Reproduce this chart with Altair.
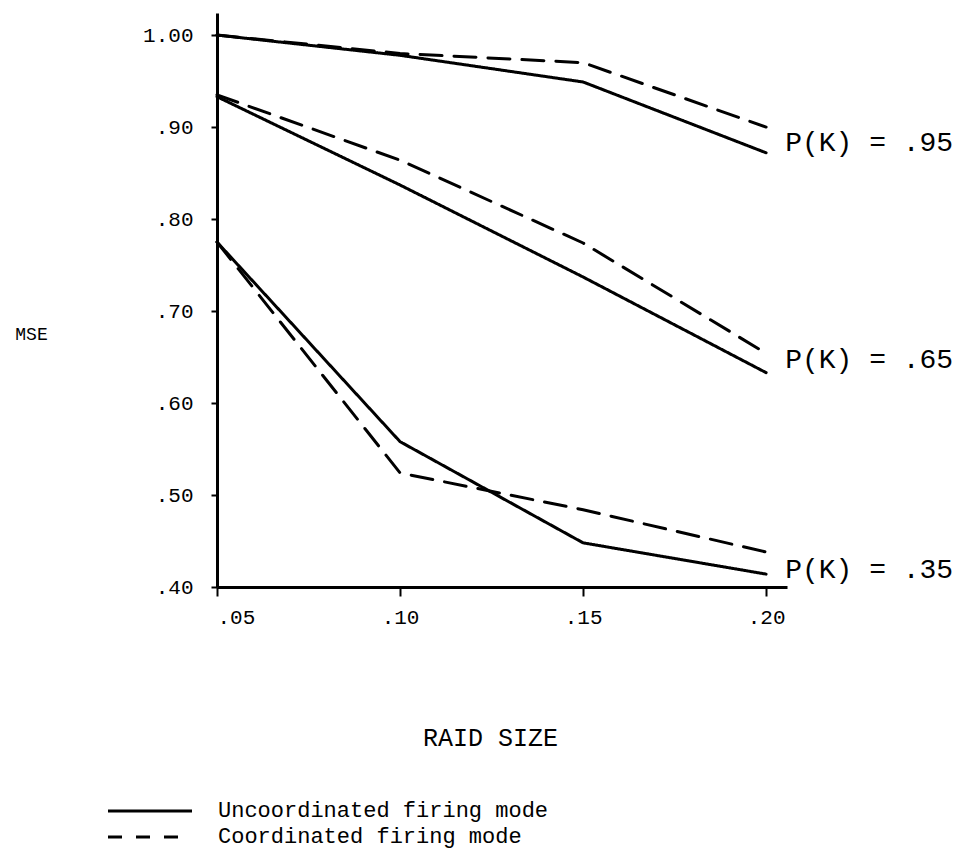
import altair as alt
import pandas as pd

# ---- data ----
raid_size = [0.05, 0.10, 0.15, 0.20]
pk_levels = [".95", ".65", ".35"]
modes = ["Uncoordinated firing mode", "Coordinated firing mode"]

unc_95 = [1.000, 0.978, 0.949, 0.872]
coo_95 = [1.000, 0.980, 0.970, 0.900]
unc_65 = [0.933, 0.837, 0.737, 0.633]
coo_65 = [0.935, 0.864, 0.774, 0.654]
unc_35 = [0.775, 0.558, 0.448, 0.414]
coo_35 = [0.775, 0.524, 0.484, 0.438]

y_ticks = [0.40, 0.50, 0.60, 0.70, 0.80, 0.90, 1.00]
x_ticks = [0.05, 0.10, 0.15, 0.20]

label_texts = ["P(K) = .95", "P(K) = .65", "P(K) = .35"]
label_y = [0.883, 0.647, 0.418]

FONT = "Liberation Mono"

series = {
    (".95", modes[0]): unc_95, (".95", modes[1]): coo_95,
    (".65", modes[0]): unc_65, (".65", modes[1]): coo_65,
    (".35", modes[0]): unc_35, (".35", modes[1]): coo_35,
}
rows = []
for (pk, mode), vals in series.items():
    for x, v in zip(raid_size, vals):
        rows.append({"raid": x, "mse": v, "pk": pk, "mode": mode})
df = pd.DataFrame(rows)

lab_df = pd.DataFrame({"raid": [raid_size[-1]] * 3, "mse": label_y, "text": label_texts})

xscale = alt.Scale(domain=[0.05, 0.2057], nice=False, zero=False)
yscale = alt.Scale(domain=[0.40, 1.024], nice=False, zero=False)

lines = alt.Chart(df).mark_line(color="black", strokeWidth=3, strokeCap="round").encode(
    x=alt.X("raid:Q", scale=xscale,
            axis=alt.Axis(values=x_ticks, title="RAID SIZE", grid=False,
                          labelExpr="substring(format(datum.value, '.2f'), 1)",
                          tickSize=9, labelPadding=10,
                          titleX=273, titleY=150, titleBaseline="middle",
                          titleAlign="center", titleFontSize=25)),
    y=alt.Y("mse:Q", scale=yscale,
            axis=alt.Axis(values=y_ticks, title="MSE", grid=False,
                          labelExpr="datum.value >= 1 ? '1.00' : substring(format(datum.value, '.2f'), 1)",
                          tickSize=6, labelPadding=18,
                          titleAngle=0, titleX=-186, titleY=321,
                          titleAlign="center", titleBaseline="middle",
                          titleFontSize=18)),
    detail="pk:N",
    strokeDash=alt.StrokeDash("mode:N", scale=alt.Scale(domain=modes, range=[[1, 0], [22, 12]]),
                              legend=None),
)

labels = alt.Chart(lab_df).mark_text(align="left", baseline="middle", dx=19,
                                     font=FONT, fontSize=28, color="black").encode(
    x=alt.X("raid:Q", scale=xscale),
    y=alt.Y("mse:Q", scale=yscale),
    text="text:N",
)

leg_df = pd.DataFrame({"mode": modes})
leg_solid = alt.Chart(leg_df).transform_filter(alt.datum.mode == modes[0]).mark_rule(
    color="black", strokeWidth=3).encode(
    x=alt.value(-109), x2=alt.value(-25), y=alt.value(798))
leg_dash = alt.Chart(leg_df).transform_filter(alt.datum.mode == modes[1]).mark_rule(
    color="black", strokeWidth=3, strokeDash=[14, 14]).encode(
    x=alt.value(-109), x2=alt.value(-25), y=alt.value(824))
leg_txt1 = alt.Chart(leg_df).transform_filter(alt.datum.mode == modes[0]).mark_text(
    align="left", baseline="middle", font=FONT, fontSize=22, color="black").encode(
    x=alt.value(1), y=alt.value(797), text="mode:N")
leg_txt2 = alt.Chart(leg_df).transform_filter(alt.datum.mode == modes[1]).mark_text(
    align="left", baseline="middle", font=FONT, fontSize=22, color="black").encode(
    x=alt.value(1), y=alt.value(823), text="mode:N")

chart = alt.layer(lines, labels, leg_solid, leg_dash, leg_txt1, leg_txt2).properties(
    width=570, height=574,
    autosize=alt.AutoSizeParams(type="none"),
    padding={"left": 209, "top": 5, "right": 171, "bottom": 263},
    background="white",
).configure_view(stroke=None).configure_axis(
    labelFont=FONT, titleFont=FONT, labelFontSize=21, labelColor="black",
    titleColor="black", titleFontWeight="normal",
    domainColor="black", domainWidth=3, tickColor="black", tickWidth=2,
)

chart.save("out.html", embed_options={"renderer": "svg", "actions": False})
